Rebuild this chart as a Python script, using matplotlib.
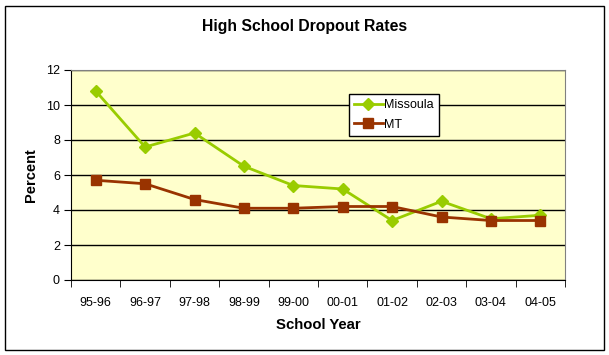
import matplotlib
matplotlib.use("Agg")
import matplotlib.pyplot as plt
from matplotlib.patches import Rectangle
import numpy as np

years = ["95-96", "96-97", "97-98", "98-99", "99-00", "00-01", "01-02", "02-03", "03-04", "04-05"]
missoula = [10.8, 7.6, 8.4, 6.5, 5.4, 5.2, 3.4, 4.5, 3.5, 3.7]
mt = [5.7, 5.5, 4.6, 4.1, 4.1, 4.2, 4.2, 3.6, 3.4, 3.4]

plt.rcParams['font.family'] = ['Liberation Sans', 'DejaVu Sans']

W, H = 609, 355
fig = plt.figure(figsize=(W/100, H/100), dpi=100)
fig.patch.set_facecolor('white')
fig.patches.append(Rectangle((5/W, 5/H), 599/W, 344/H, transform=fig.transFigure,
                             fill=False, edgecolor='black', linewidth=1))

left, right, top, bottom = 71, 565, 70, 280
ax = fig.add_axes([left/W, 1-bottom/H, (right-left)/W, (bottom-top)/H])
ax.set_facecolor('#FFFFCC')

x = np.arange(len(years))
ax.plot(x, missoula, color='#99CC00', marker='D', markersize=6, linewidth=2, label='Missoula')
ax.plot(x, mt, color='#993300', marker='s', markersize=7, linewidth=2, label='MT')

ax.set_xlim(-0.5, len(years)-0.5)
ax.set_ylim(0, 12)
ax.set_yticks(range(0, 13, 2))
ax.yaxis.grid(True, color='black', linewidth=1)
ax.set_axisbelow(True)
ax.set_xticks(x)
ax.set_xticklabels(years)
ax.set_xticks(np.arange(-0.5, len(years), 1), minor=True)
ax.tick_params(axis='x', which='major', length=0, pad=12, labelsize=9)
ax.tick_params(axis='x', which='minor', length=5, color='black', direction='out')
ax.tick_params(axis='y', length=5, color='black', labelsize=9, pad=3)
for s in ['left', 'bottom']:
    ax.spines[s].set_color('black')
for s in ['top', 'right']:
    ax.spines[s].set_color('#808080')

ax.set_xlabel('School Year', fontsize=10.7, fontweight='bold', labelpad=7)
ax.set_ylabel('Percent', fontsize=10.5, fontweight='bold', labelpad=6)
fig.text(0.5, 1-27/H, 'High School Dropout Rates', ha='center', va='center', fontsize=11.3, fontweight='bold')

leg = ax.legend(loc='upper left', bbox_to_anchor=((349-left)/(right-left), 1-(94-top)/(bottom-top)),
                frameon=True, fancybox=False, framealpha=1, edgecolor='black', fontsize=9,
                handlelength=2.3, borderpad=0.4, labelspacing=0.6, handletextpad=0.1, borderaxespad=0)
leg.get_frame().set_linewidth(1)

fig.savefig('out.png', dpi=100)
